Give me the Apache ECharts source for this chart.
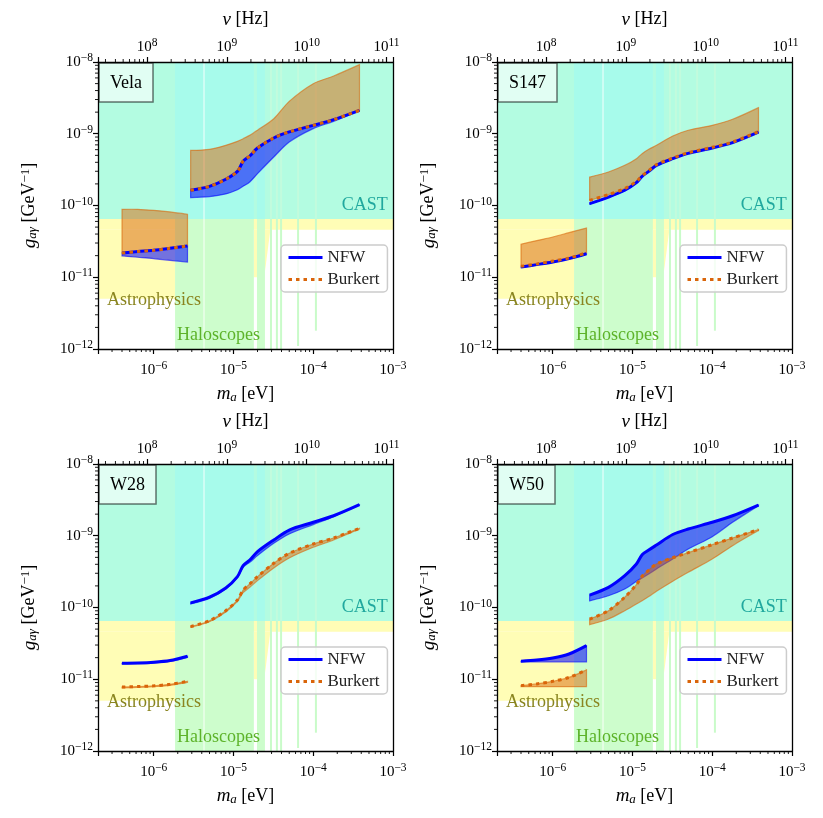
<!DOCTYPE html>
<html>
<head>
<meta charset="utf-8">
<script src="https://cdn.jsdelivr.net/npm/echarts@6/dist/echarts.min.js"></script>
<style>
  html, body { margin: 0; padding: 0; background: #fff; }
  #chart { width: 823px; height: 818px; }
</style>
</head>
<body>
<div id="chart"></div>
<script>
// mass grids (eV) shared by all panels
const massHi = [2.9e-6, 5e-6, 8e-6, 1.12e-5, 1.32e-5, 1.6e-5, 2e-5, 3.2e-5, 5e-5, 1e-4, 1.8e-4, 3.8e-4]
const massLo = [4e-7, 6.3e-7, 1e-6, 1.6e-6, 2.65e-6]

// Vela
const velaNfwHi = [1.63e-10, 1.85e-10, 2.32e-10, 2.99e-10, 4.13e-10, 4.9e-10, 6.32e-10, 8.73e-10, 1.06e-9, 1.31e-9, 1.57e-9, 2.12e-9]
const velaNfwHiEdge = [1.29e-10, 1.33e-10, 1.45e-10, 1.66e-10, 1.85e-10, 2.13e-10, 2.78e-10, 4.74e-10, 7.67e-10, 1.18e-9, 1.49e-9, 2.12e-9]
const velaBurHi = [1.63e-10, 1.85e-10, 2.32e-10, 2.99e-10, 4.13e-10, 4.9e-10, 6.32e-10, 8.73e-10, 1.06e-9, 1.31e-9, 1.57e-9, 2.12e-9]
const velaBurHiEdge = [5.87e-10, 6.07e-10, 6.9e-10, 7.84e-10, 8.53e-10, 9.5e-10, 1.12e-9, 1.62e-9, 2.83e-9, 4.99e-9, 6.38e-9, 9.18e-9]
const velaNfwLo = [2.18e-11, 2.28e-11, 2.37e-11, 2.53e-11, 2.73e-11]
const velaNfwLoEdge = [1.98e-11, 1.9e-11, 1.82e-11, 1.72e-11, 1.63e-11]
const velaBurLo = [2.18e-11, 2.28e-11, 2.37e-11, 2.53e-11, 2.73e-11]
const velaBurLoEdge = [8.85e-11, 8.85e-11, 8.57e-11, 8.14e-11, 7.53e-11]

// S147
const s147NfwHi = [1.06e-10, 1.31e-10, 1.63e-10, 2.08e-10, 2.55e-10, 2.99e-10, 3.63e-10, 4.5e-10, 5.33e-10, 6.32e-10, 7.51e-10, 1.05e-9]
const s147NfwHiEdge = [1.04e-10, 1.29e-10, 1.61e-10, 2.06e-10, 2.53e-10, 2.97e-10, 3.6e-10, 4.47e-10, 5.3e-10, 6.3e-10, 7.48e-10, 1.04e-9]
const s147BurHi = [1.18e-10, 1.42e-10, 1.72e-10, 2.17e-10, 2.6e-10, 3.06e-10, 3.71e-10, 4.59e-10, 5.44e-10, 6.47e-10, 7.67e-10, 1.07e-9]
const s147BurHiEdge = [2.49e-10, 2.93e-10, 3.63e-10, 4.5e-10, 5.28e-10, 6.07e-10, 6.9e-10, 9.3e-10, 1.12e-9, 1.31e-9, 1.59e-9, 2.31e-9]
const s147NfwLo = [1.39e-11, 1.5e-11, 1.63e-11, 1.82e-11, 2.13e-11]
const s147NfwLoEdge = [1.37e-11, 1.48e-11, 1.61e-11, 1.8e-11, 2.1e-11]
const s147BurLo = [1.42e-11, 1.53e-11, 1.68e-11, 1.85e-11, 2.2e-11]
const s147BurLoEdge = [2.88e-11, 3.24e-11, 3.64e-11, 4.18e-11, 4.85e-11]

// W28
const w28NfwHi = [1.16e-10, 1.39e-10, 1.87e-10, 2.69e-10, 3.83e-10, 4.59e-10, 6.0e-10, 8.73e-10, 1.2e-9, 1.54e-9, 1.9e-9, 2.71e-9]
const w28NfwHiEdge = [1.12e-10, 1.34e-10, 1.81e-10, 2.61e-10, 3.63e-10, 4.26e-10, 5.28e-10, 7.84e-10, 1.06e-9, 1.43e-9, 1.85e-9, 2.68e-9]
const w28BurHi = [5.41e-11, 6.55e-11, 9.03e-11, 1.27e-10, 1.75e-10, 2.13e-10, 2.69e-10, 4.13e-10, 5.69e-10, 7.67e-10, 9.31e-10, 1.27e-9]
const w28BurHiEdge = [5.3e-11, 6.35e-11, 8.65e-11, 1.22e-10, 1.61e-10, 1.91e-10, 2.37e-10, 3.56e-10, 4.9e-10, 6.9e-10, 8.73e-10, 1.24e-9]
const w28NfwLo = [1.67e-11, 1.68e-11, 1.72e-11, 1.82e-11, 2.09e-11]
const w28NfwLoEdge = [1.64e-11, 1.65e-11, 1.68e-11, 1.77e-11, 2.02e-11]
const w28BurLo = [7.8e-12, 7.9e-12, 8.1e-12, 8.5e-12, 9.35e-12]
const w28BurLoEdge = [7.6e-12, 7.7e-12, 7.9e-12, 8.2e-12, 9.0e-12]

// W50
const w50NfwHi = [1.49e-10, 1.91e-10, 2.78e-10, 4.04e-10, 5.44e-10, 6.32e-10, 7.43e-10, 1.04e-9, 1.24e-9, 1.54e-9, 1.9e-9, 2.68e-9]
const w50NfwHiEdge = [1.24e-10, 1.46e-10, 1.81e-10, 2.32e-10, 2.58e-10, 2.93e-10, 3.44e-10, 4.74e-10, 6.53e-10, 9.7e-10, 1.54e-9, 2.63e-9]
const w50BurHi = [6.92e-11, 9.03e-11, 1.39e-10, 2.08e-10, 2.72e-10, 3.33e-10, 4.04e-10, 4.95e-10, 5.81e-10, 7.51e-10, 9.31e-10, 1.22e-9]
const w50BurHiEdge = [5.77e-11, 6.92e-11, 9.03e-11, 1.12e-10, 1.24e-10, 1.42e-10, 1.68e-10, 2.32e-10, 3.09e-10, 4.74e-10, 7.28e-10, 1.18e-9]
const w50NfwLo = [1.78e-11, 1.85e-11, 1.98e-11, 2.25e-11, 2.94e-11]
const w50NfwLoEdge = [1.74e-11, 1.74e-11, 1.74e-11, 1.74e-11, 1.74e-11]
const w50BurLo = [8.15e-12, 8.6e-12, 9.35e-12, 1.06e-11, 1.35e-11]
const w50BurLoEdge = [7.88e-12, 7.88e-12, 7.88e-12, 7.88e-12, 7.88e-12]

// exclusion regions [mMin, mMax, gMin, gMax]
const castZone = [2e-7, 1e-3, 6.5e-11, 1e-8]
const astroBand = [2e-7, 1e-3, 4.6e-11, 6.5e-11]
const astroBlock = [2e-7, 1.85e-6, 5e-12, 4.6e-11]
const astroStrip = [1.8e-5, 1.97e-5, 1e-11, 4.6e-11]
const astroWedgeMass = [2.48e-5, 2.48e-5, 2.9e-5]
const astroWedgeG = [4.6e-11, 1.2e-11, 4.6e-11]
const haloZoneMin = [1.85e-6, 1.97e-5]
const haloZoneMax = [1.8e-5, 2.48e-5]
const haloFloor = 1e-12
const haloSpikeMass = [2.95e-5, 3.5e-5, 3.95e-5, 6.45e-5, 1.08e-4]
const haloSpikeFloor = [1e-12, 1e-12, 1e-12, 1.1e-12, 1.8e-12]
const haloGapMass = [4.27e-6]

const annoText = ['CAST', 'Astrophysics', 'Haloscopes']
const annoMass = [8.6e-4, 2.6e-7, 1.96e-6]
const annoG = [1.0e-10, 4.8e-12, 1.57e-12]

const panelNames = ['Vela', 'S147', 'W28', 'W50']
const mRange = [2e-7, 1e-3]
const gRange = [1e-12, 1e-8]
const nuPerEv = 1.209e14 // top axis: nu [Hz] per m_a [eV]

const FONT = 'Liberation Serif'
const BLUE = '#0000ff'
const ORANGE = '#d9650a'
const SMOOTH = 0.3
const gridPos = [[98, 62], [497, 62], [98, 464], [497, 464]]
const GW = 295, GH = 287

const curves = {
  Vela: [velaNfwHi, velaNfwHiEdge, velaBurHi, velaBurHiEdge, velaNfwLo, velaNfwLoEdge, velaBurLo, velaBurLoEdge],
  S147: [s147NfwHi, s147NfwHiEdge, s147BurHi, s147BurHiEdge, s147NfwLo, s147NfwLoEdge, s147BurLo, s147BurLoEdge],
  W28: [w28NfwHi, w28NfwHiEdge, w28BurHi, w28BurHiEdge, w28NfwLo, w28NfwLoEdge, w28BurLo, w28BurLoEdge],
  W50: [w50NfwHi, w50NfwHiEdge, w50BurHi, w50BurHiEdge, w50NfwLo, w50NfwLoEdge, w50BurLo, w50BurLoEdge]
}

const tickRich = {
  b: { fontFamily: FONT, fontSize: 15, color: '#000' },
  s: { fontFamily: FONT, fontSize: 11.5, color: '#000', padding: [0, 0, 8, 0] }
}
function powLabel(v) {
  const e = Math.log10(v)
  const r = Math.round(e)
  if (Math.abs(e - r) > 1e-6) return ''
  return '{b|10}{s|' + (r < 0 ? '\u2212' + (-r) : r) + '}'
}
function minorValues(lo, hi) {
  const out = []
  for (let d = Math.floor(Math.log10(lo)); d <= Math.ceil(Math.log10(hi)); d++) {
    for (let k = 2; k <= 9; k++) {
      const v = k * Math.pow(10, d)
      if (v > lo * 1.0001 && v < hi * 0.9999) out.push(v)
    }
  }
  return out
}
function rect(api, x1, x2, y1, y2, fill) {
  const a = api.coord([x1, y2])
  const b = api.coord([x2, y1])
  return { type: 'rect', shape: { x: a[0], y: a[1], width: b[0] - a[0], height: b[1] - a[1] }, style: { fill: fill } }
}
// bezier path through screen points, same control-point rule as a smoothed line series
function smoothPath(pts, sm, start) {
  const n = pts.length
  const cin = [], cout = []
  for (let i = 0; i < n; i++) {
    const p = pts[i]
    if (i === 0 || i === n - 1) { cin.push(p); cout.push(p); continue }
    const a = pts[i - 1], b = pts[i + 1]
    const vx = (b[0] - a[0]) * sm, vy = (b[1] - a[1]) * sm
    const d0 = Math.hypot(p[0] - a[0], p[1] - a[1])
    const d1 = Math.hypot(b[0] - p[0], b[1] - p[1])
    const s = d0 + d1 || 1
    cin.push([p[0] - vx * d0 / s, p[1] - vy * d0 / s])
    cout.push([p[0] + vx * d1 / s, p[1] + vy * d1 / s])
  }
  let d = start + pts[0][0] + ' ' + pts[0][1]
  for (let i = 0; i < n - 1; i++) {
    d += ' C' + cout[i][0] + ' ' + cout[i][1] + ' ' + cin[i + 1][0] + ' ' + cin[i + 1][1] + ' ' + pts[i + 1][0] + ' ' + pts[i + 1][1]
  }
  return d
}

const nameRich = {
  i: { fontFamily: FONT, fontSize: 19, fontStyle: 'italic', color: '#000' },
  sub: { fontFamily: FONT, fontSize: 13, fontStyle: 'italic', color: '#000', padding: [7, 0, 0, 0] },
  sup: { fontFamily: FONT, fontSize: 13, color: '#000', padding: [0, 0, 8, 0] },
  t: { fontFamily: FONT, fontSize: 18, color: '#000' }
}

const option = {
  animation: false,
  backgroundColor: '#fff',
  grid: [], xAxis: [], yAxis: [], series: [], legend: [], title: []
}

panelNames.forEach((name, i) => {
  const [gx, gy] = gridPos[i]
  const c = curves[name]
  option.grid.push({ left: gx, top: gy, width: GW, height: GH })
  const axisCommon = {
    type: 'log', logBase: 10, gridIndex: i, z: 10,
    splitLine: { show: false },
    axisLine: { show: true, lineStyle: { color: '#000', width: 1.3 } },
    axisTick: { show: true, inside: false, length: 5, lineStyle: { color: '#000', width: 1.2 } },
    axisLabel: { formatter: powLabel, rich: tickRich, margin: 5 }
  }
  option.xAxis.push(Object.assign({}, axisCommon, {
    position: 'bottom', min: mRange[0], max: mRange[1],
    axisLabel: { formatter: powLabel, rich: tickRich, margin: 11 },
    name: '{i|m}{sub|a}{t| [eV]}', nameLocation: 'middle', nameGap: 35,
    nameTextStyle: { rich: nameRich }
  }))
  option.xAxis.push(Object.assign({}, axisCommon, {
    position: 'top', min: mRange[0] * nuPerEv, max: mRange[1] * nuPerEv,
    name: '{i|\u03bd}{t| [Hz]}', nameLocation: 'middle', nameGap: 33,
    nameTextStyle: { rich: nameRich }
  }))
  option.yAxis.push(Object.assign({}, axisCommon, {
    position: 'left', min: gRange[0], max: gRange[1],
    name: '{i|g}{sub|a\u03b3}{t| [GeV}{sup|\u22121}{t|]}', nameLocation: 'middle', nameGap: 58, nameRotate: 90,
    nameTextStyle: { rich: nameRich }
  }))
  option.yAxis.push(Object.assign({}, axisCommon, {
    position: 'right', min: gRange[0], max: gRange[1],
    axisTick: { show: false }, axisLabel: { show: false }
  }))
  const xb = 2 * i, xt = 2 * i + 1, yl = 2 * i

  // background exclusion regions
  option.series.push({
    type: 'custom', xAxisIndex: xb, yAxisIndex: yl, silent: true, z: 1,
    data: [[castZone[0], castZone[2]]],
    renderItem: (params, api) => {
      const ch = []
      ch.push(rect(api, castZone[0], castZone[1], castZone[2], castZone[3], '#b3fce1'))
      ch.push(rect(api, astroBand[0], astroBand[1], astroBand[2], astroBand[3], '#fffdb6'))
      ch.push(rect(api, astroBlock[0], astroBlock[1], astroBlock[2], astroBlock[3], '#fffdb6'))
      ch.push(rect(api, astroStrip[0], astroStrip[1], astroStrip[2], astroStrip[3], '#fffdb6'))
      ch.push({
        type: 'polygon',
        shape: { points: astroWedgeMass.map((m, k) => api.coord([m, astroWedgeG[k]])) },
        style: { fill: '#fffdb6' }
      })
      haloZoneMin.forEach((m0, k) => {
        ch.push(rect(api, m0, haloZoneMax[k], haloFloor, castZone[2], '#cdfdcc'))
        ch.push(rect(api, m0, haloZoneMax[k], castZone[2], castZone[3], '#a7fbeb'))
      })
      haloSpikeMass.forEach((m, k) => {
        const p0 = api.coord([m, haloSpikeFloor[k]])
        const p1 = api.coord([m, castZone[2]])
        const p2 = api.coord([m, castZone[3]])
        ch.push({ type: 'rect', shape: { x: p0[0] - 1, y: p1[1], width: 2, height: p0[1] - p1[1] }, style: { fill: '#c9fbc9' } })
        ch.push({ type: 'rect', shape: { x: p0[0] - 1, y: p2[1], width: 2, height: p1[1] - p2[1] }, style: { fill: '#c2fbdd' } })
      })
      haloGapMass.forEach(m => {
        const p0 = api.coord([m, haloFloor])
        const p2 = api.coord([m, castZone[3]])
        ch.push({ type: 'rect', shape: { x: p0[0] - 0.75, y: p2[1], width: 1.5, height: p0[1] - p2[1] }, style: { fill: 'rgba(255,255,255,0.6)' } })
      })
      return { type: 'group', children: ch }
    }
  })

  // region annotations
  option.series.push({
    type: 'custom', xAxisIndex: xb, yAxisIndex: yl, silent: true, z: 3,
    data: annoMass.map((m, k) => [m, annoG[k]]),
    renderItem: (params, api) => {
      const k = params.dataIndex
      const p = api.coord([api.value(0), api.value(1)])
      const fills = ['#20a89e', '#8a8520', '#5db32a']
      return {
        type: 'text', x: p[0], y: p[1],
        style: {
          text: annoText[k], fill: fills[k], font: '18px "' + FONT + '"',
          align: k === 0 ? 'right' : 'left', verticalAlign: 'middle'
        }
      }
    }
  })

  // uncertainty bands
  const bandSeries = (line, edge, lineLo, edgeLo, color, stroke) => ({
    type: 'custom', xAxisIndex: xb, yAxisIndex: yl, silent: true, z: 4,
    data: [[massHi[0], line[0]], [massLo[0], lineLo[0]]],
    renderItem: (params, api) => {
      const lo = params.dataIndex === 1
      const ms = lo ? massLo : massHi
      const a = lo ? lineLo : line
      const b = lo ? edgeLo : edge
      const top = ms.map((m, k) => api.coord([m, a[k]]))
      const bot = ms.map((m, k) => api.coord([m, b[k]])).reverse()
      const d = smoothPath(top, SMOOTH, 'M') + ' ' + smoothPath(bot, SMOOTH, 'L') + ' Z'
      return { type: 'path', shape: { pathData: d }, style: { fill: color, stroke: stroke, lineWidth: 1.2 } }
    }
  })
  option.series.push(bandSeries(c[0], c[1], c[4], c[5], 'rgba(0,0,255,0.55)', 'rgba(0,0,255,0.6)'))
  option.series.push(bandSeries(c[2], c[3], c[6], c[7], 'rgba(217,101,10,0.5)', 'rgba(217,101,10,0.6)'))

  // central lines
  const lineSeries = (nm, ms, vals, style, z) => ({
    type: 'line', name: nm, xAxisIndex: xb, yAxisIndex: yl, silent: true, z: z,
    data: ms.map((m, k) => [m, vals[k]]), symbol: 'none', smooth: SMOOTH,
    lineStyle: style, itemStyle: { color: style.color }
  })
  const nfwStyle = { color: BLUE, width: 3 }
  const burStyle = { color: ORANGE, width: 3, type: [3.5, 4] }
  option.series.push(lineSeries('NFW', massHi, c[0], nfwStyle, 5))
  option.series.push(lineSeries('NFW', massLo, c[4], nfwStyle, 5))
  option.series.push(lineSeries('Burkert', massHi, c[2], burStyle, 6))
  option.series.push(lineSeries('Burkert', massLo, c[6], burStyle, 6))

  // minor ticks
  const tickSeries = (xi, vals, dx, dy) => ({
    type: 'custom', xAxisIndex: xi, yAxisIndex: yl, silent: true, z: 11,
    data: vals,
    renderItem: (params, api) => {
      const p = api.coord([api.value(0), api.value(1)])
      return { type: 'line', shape: { x1: p[0], y1: p[1], x2: p[0] + dx, y2: p[1] + dy }, style: { stroke: '#000', lineWidth: 0.9 } }
    }
  })
  option.series.push(tickSeries(xb, minorValues(mRange[0], mRange[1]).map(v => [v, gRange[0]]), 0, 3))
  option.series.push(tickSeries(xb, minorValues(gRange[0], gRange[1]).map(v => [mRange[0], v]), -3, 0))
  option.series.push(tickSeries(xt, minorValues(mRange[0] * nuPerEv, mRange[1] * nuPerEv).map(v => [v, gRange[1]]), 0, -3))

  option.legend.push({
    orient: 'vertical', left: gx + 183, top: gy + 183,
    data: ['NFW', 'Burkert'], itemWidth: 34, itemHeight: 14, itemGap: 5,
    padding: [4, 8, 4, 6],
    itemStyle: { opacity: 0 },
    lineStyle: { width: 3 },
    backgroundColor: 'rgba(255,255,255,0.8)', borderColor: '#cccccc', borderWidth: 1.5, borderRadius: 4,
    textStyle: { fontFamily: FONT, fontSize: 17, color: '#222' }
  })
  option.title.push({
    text: name, left: gx + 1, top: gy + 1, padding: [11, 11, 10, 11],
    backgroundColor: 'rgba(255,255,255,0.6)', borderColor: 'rgba(0,0,0,0.55)', borderWidth: 1.5,
    textStyle: { fontFamily: FONT, fontSize: 18, fontWeight: 'normal', color: '#000' }
  })
})

const chart = echarts.init(document.getElementById('chart'))
chart.setOption(option)
</script>
</body>
</html>
